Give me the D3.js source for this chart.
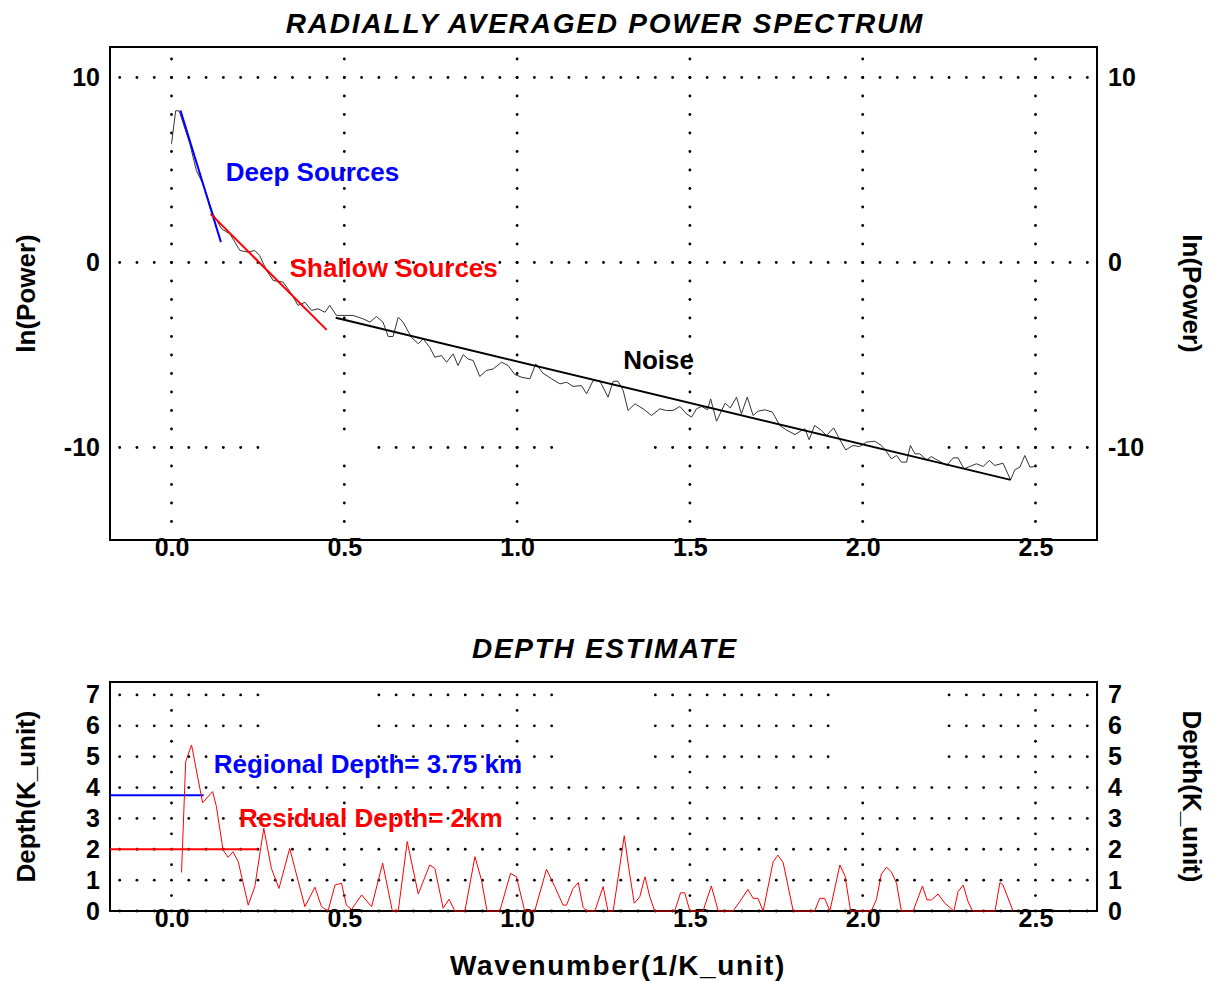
<!DOCTYPE html>
<html>
<head>
<meta charset="utf-8">
<script src="https://cdn.jsdelivr.net/npm/d3@7/dist/d3.min.js"></script>
<style>
  body { margin: 0; background: #fff; }
  svg { font-family: "Liberation Sans", Arial, sans-serif; font-weight: bold; }
</style>
</head>
<body>
<svg width="1213" height="982"></svg>
<script>
// ---- data ----
const xTicks = [0, 0.5, 1.0, 1.5, 2.0, 2.5];
const powerTicks = [-10, 0, 10];
const depthTicks = [0, 1, 2, 3, 4, 5, 6, 7];

// radially averaged spectrum (wavenumber, ln power)
const specK = [0.0, 0.012, 0.022, 0.053, 0.072, 0.091, 0.12, 0.145, 0.169, 0.198, 0.222, 0.241, 0.255, 0.275, 0.294, 0.323, 0.347, 0.366, 0.386, 0.405, 0.424, 0.444, 0.458, 0.477, 0.501, 0.525, 0.554, 0.574, 0.593, 0.612, 0.627, 0.641, 0.656, 0.67, 0.694, 0.714, 0.728, 0.747, 0.762, 0.781, 0.796, 0.815, 0.829, 0.844, 0.858, 0.873, 0.892, 0.911, 0.931, 0.955, 0.974, 0.993, 1.013, 1.037, 1.054, 1.075, 1.1, 1.124, 1.143, 1.162, 1.186, 1.201, 1.22, 1.239, 1.263, 1.278, 1.292, 1.307, 1.321, 1.341, 1.365, 1.389, 1.413, 1.432, 1.451, 1.471, 1.49, 1.505, 1.519, 1.534, 1.551, 1.56, 1.577, 1.602, 1.617, 1.635, 1.649, 1.666, 1.683, 1.697, 1.717, 1.739, 1.76, 1.779, 1.804, 1.823, 1.833, 1.845, 1.861, 1.881, 1.895, 1.916, 1.934, 1.951, 1.972, 1.991, 2.011, 2.035, 2.054, 2.068, 2.083, 2.098, 2.112, 2.127, 2.138, 2.151, 2.165, 2.185, 2.199, 2.218, 2.243, 2.262, 2.276, 2.293, 2.31, 2.329, 2.349, 2.366, 2.382, 2.406, 2.428, 2.44, 2.455, 2.469, 2.484, 2.498];
const specLnP = [6.42, 8.2, 8.2, 6.42, 4.97, 4.25, 2.63, 1.82, 1.55, 0.65, 0.56, 0.65, 0.38, -0.43, -0.97, -1.06, -1.69, -2.32, -2.15, -2.59, -2.5, -2.69, -2.32, -2.86, -2.86, -2.86, -3.04, -3.22, -2.92, -3.22, -4.0, -4.0, -2.96, -3.22, -4.04, -4.39, -4.13, -4.58, -5.12, -5.03, -5.39, -4.94, -5.57, -4.98, -5.21, -5.3, -6.16, -5.84, -5.75, -5.39, -5.57, -6.05, -6.2, -6.29, -5.48, -5.98, -6.29, -6.56, -6.47, -6.7, -6.65, -7.1, -6.38, -6.38, -7.28, -6.42, -6.42, -6.92, -8.0, -7.64, -7.91, -8.27, -7.91, -8.0, -8.0, -7.78, -8.18, -8.36, -7.91, -7.78, -7.96, -7.37, -8.58, -7.6, -7.86, -7.28, -8.18, -7.28, -8.27, -8.04, -7.96, -8.09, -8.81, -9.05, -9.3, -9.08, -8.99, -9.58, -8.81, -9.08, -9.35, -8.94, -9.58, -10.13, -9.89, -9.95, -9.71, -9.66, -9.89, -10.2, -10.61, -10.43, -10.79, -10.79, -9.89, -10.34, -10.34, -10.67, -10.49, -10.7, -10.97, -10.56, -10.56, -11.15, -11.03, -10.88, -11.03, -10.7, -10.97, -10.85, -11.75, -11.21, -11.06, -10.43, -11.06, -11.03];

// straight-line fits: [start, end]
const deepFitK = [0.026, 0.143], deepFitP = [8.22, 1.1];
const shallowFitK = [0.113, 0.449], shallowFitP = [2.63, -3.64];
const noiseFitK = [0.475, 2.428], noiseFitP = [-2.99, -11.75];

// depth estimate curve
const depthK = [0.029, 0.041, 0.058, 0.09, 0.119, 0.13, 0.149, 0.164, 0.178, 0.193, 0.222, 0.241, 0.267, 0.289, 0.311, 0.342, 0.357, 0.386, 0.415, 0.434, 0.453, 0.473, 0.492, 0.506, 0.521, 0.55, 0.579, 0.611, 0.639, 0.656, 0.682, 0.714, 0.747, 0.762, 0.786, 0.803, 0.82, 0.849, 0.878, 0.897, 0.913, 0.95, 0.981, 0.998, 1.022, 1.051, 1.085, 1.109, 1.133, 1.143, 1.162, 1.177, 1.191, 1.201, 1.225, 1.249, 1.263, 1.278, 1.297, 1.31, 1.324, 1.339, 1.355, 1.37, 1.384, 1.398, 1.456, 1.473, 1.485, 1.5, 1.538, 1.562, 1.582, 1.625, 1.644, 1.668, 1.683, 1.697, 1.712, 1.741, 1.755, 1.77, 1.799, 1.861, 1.876, 1.89, 1.905, 1.934, 1.949, 1.965, 2.025, 2.04, 2.054, 2.069, 2.083, 2.098, 2.112, 2.146, 2.173, 2.186, 2.199, 2.218, 2.238, 2.264, 2.276, 2.291, 2.305, 2.318, 2.383, 2.397, 2.406, 2.435];
const depthVal = [1.25, 4.84, 5.38, 3.51, 3.87, 3.38, 1.98, 1.74, 1.92, 1.6, 0.19, 0.79, 2.68, 1.38, 0.73, 2.03, 1.38, 0.14, 0.77, 0.14, 0, 0.84, 0.9, 0.19, 0.05, 0.52, 0.14, 1.55, 0, 0, 2.25, 0.55, 1.49, 1.38, 0.09, 0.38, 0, 0, 1.76, 1.0, 0, 0, 1.22, 1.11, 0, 0, 1.35, 0.79, 0.19, 0.19, 0.73, 0.92, 0.12, 0, 0, 0.79, 0, 0, 1.44, 2.44, 1.33, 0.25, 0.46, 1.11, 0.46, 0, 0, 0.59, 0.59, 0, 0, 0.81, 0, 0, 0.3, 0.7, 0.41, 0.41, 0, 1.6, 1.81, 1.56, 0, 0, 0.41, 0.41, 0, 1.49, 1.13, 0, 0, 0.38, 1.2, 1.42, 1.27, 0.9, 0, 0, 0.81, 0.36, 0.36, 0.55, 0.25, 0, 0.63, 0.84, 0.3, 0, 0, 0.92, 0.84, 0];

const regionalDepth = 3.75, regionalEndK = 0.093;
const residualDepth = 2, residualEndK = 0.25;

// ---- layout ----
const svg = d3.select("svg");
const font = "Liberation Sans, Arial, sans-serif";
const left = 110, right = 1097;

const x = d3.scaleLinear().domain([-0.178, 2.678]).range([left, right]);
const yTop = d3.scaleLinear().domain([-15, 11.65]).range([540, 47]);
const yBot = d3.scaleLinear().domain([0, 7.42]).range([911, 682]);

// areas where the original grid has no dots
const gridGaps = [[0.26, 0.59], [1.11, 1.39], [1.91, 2.24]];
const inGap = k => gridGaps.some(g => k > g[0] && k < g[1]);

const xDots = d3.range(-3, 54).map(i => i * 0.05);

function drawGrid(g, y, hLines, vDots, skip) {
  const dots = [];
  hLines.forEach(v => xDots.forEach(k => { if (!skip(k, v)) dots.push([k, v]); }));
  xTicks.forEach(k => vDots.forEach(v => { if (!skip(k, v)) dots.push([k, v]); }));
  g.append("g").selectAll("circle").data(dots).enter().append("circle")
    .attr("cx", d => x(d[0])).attr("cy", d => y(d[1])).attr("r", 1.4).attr("fill", "#000");
}

function drawAxes(g, y, ticks, yLabel) {
  const fmt = d => String(d);
  const tickFont = sel => sel.selectAll("text").attr("font-size", 25).attr("font-weight", "bold")
    .attr("font-family", font).attr("fill", "#000");
  const [y0, y1] = y.range();
  const ya = g.append("g").attr("transform", `translate(${left - 10},0)`)
    .call(d3.axisLeft(y).tickValues(ticks).tickSize(0).tickPadding(0).tickFormat(fmt));
  ya.select(".domain").remove(); tickFont(ya);
  const yb = g.append("g").attr("transform", `translate(${right + 11},0)`)
    .call(d3.axisRight(y).tickValues(ticks).tickSize(0).tickPadding(0).tickFormat(fmt));
  yb.select(".domain").remove(); tickFont(yb);
  const xa = g.append("g").attr("transform", `translate(0,${y0 - 2})`)
    .call(d3.axisBottom(x).tickValues(xTicks).tickSize(0).tickPadding(0).tickFormat(d3.format(".1f")));
  xa.select(".domain").remove(); tickFont(xa);

  g.append("rect").attr("x", left).attr("y", y1).attr("width", right - left).attr("height", y0 - y1)
    .attr("fill", "none").attr("stroke", "#000").attr("stroke-width", 2);

  const cy = (y0 + y1) / 2;
  g.append("text").attr("transform", `translate(35,${cy}) rotate(-90)`).attr("text-anchor", "middle")
    .attr("font-size", 26).text(yLabel);
  g.append("text").attr("transform", `translate(1183,${cy}) rotate(90)`).attr("text-anchor", "middle")
    .attr("font-size", 26).text(yLabel);
}

function segment(g, y, ks, vs, color, w) {
  g.append("path").datum(d3.zip(ks, vs))
    .attr("d", d3.line().x(d => x(d[0])).y(d => y(d[1])))
    .attr("fill", "none").attr("stroke", color).attr("stroke-width", w);
}

// ---- top: power spectrum ----
const topG = svg.append("g");
drawGrid(topG, yTop, powerTicks, d3.range(-14, 12), (k, v) => v === -10 && inGap(k));
drawAxes(topG, yTop, powerTicks, "ln(Power)");

segment(topG, yTop, specK, specLnP, "#333", 1);
segment(topG, yTop, deepFitK, deepFitP, "#0000ff", 2);
segment(topG, yTop, shallowFitK, shallowFitP, "#ff0000", 2);
segment(topG, yTop, noiseFitK, noiseFitP, "#000", 2);

topG.append("text").attr("x", x(0.157)).attr("y", yTop(4.43)).attr("font-size", 26).attr("fill", "#0000ff").text("Deep Sources");
topG.append("text").attr("x", x(0.342)).attr("y", yTop(-0.76)).attr("font-size", 26).attr("fill", "#ff0000").text("Shallow Sources");
topG.append("text").attr("x", x(1.307)).attr("y", yTop(-5.75)).attr("font-size", 26).attr("fill", "#000").text("Noise");

svg.append("text").attr("x", 605).attr("y", 33).attr("text-anchor", "middle").attr("font-size", 28)
  .attr("font-style", "italic").attr("letter-spacing", 1.8).text("RADIALLY AVERAGED POWER SPECTRUM");

// ---- bottom: depth estimate ----
const botG = svg.append("g");
drawGrid(botG, yBot, depthTicks, d3.range(0.5, 7, 1), (k, v) => v > 4.2 && inGap(k));
drawAxes(botG, yBot, depthTicks, "Depth(K_unit)");

segment(botG, yBot, [x.domain()[0], regionalEndK], [regionalDepth, regionalDepth], "#0000ff", 2);
segment(botG, yBot, [x.domain()[0], residualEndK], [residualDepth, residualDepth], "#ff0000", 2);
segment(botG, yBot, depthK, depthVal, "#ff0000", 1);

botG.append("text").attr("x", x(0.122)).attr("y", yBot(4.47)).attr("font-size", 26).attr("fill", "#0000ff")
  .text(`Regional Depth= ${regionalDepth} km`);
botG.append("text").attr("x", x(0.195)).attr("y", yBot(2.72)).attr("font-size", 26).attr("fill", "#ff0000")
  .text(`Residual Depth= ${residualDepth}km`);

svg.append("text").attr("x", 605).attr("y", 658).attr("text-anchor", "middle").attr("font-size", 28)
  .attr("font-style", "italic").attr("letter-spacing", 1.7).text("DEPTH ESTIMATE");
svg.append("text").attr("x", 618).attr("y", 975).attr("text-anchor", "middle").attr("font-size", 28)
  .attr("letter-spacing", 1.6).text("Wavenumber(1/K_unit)");
</script>
</body>
</html>
